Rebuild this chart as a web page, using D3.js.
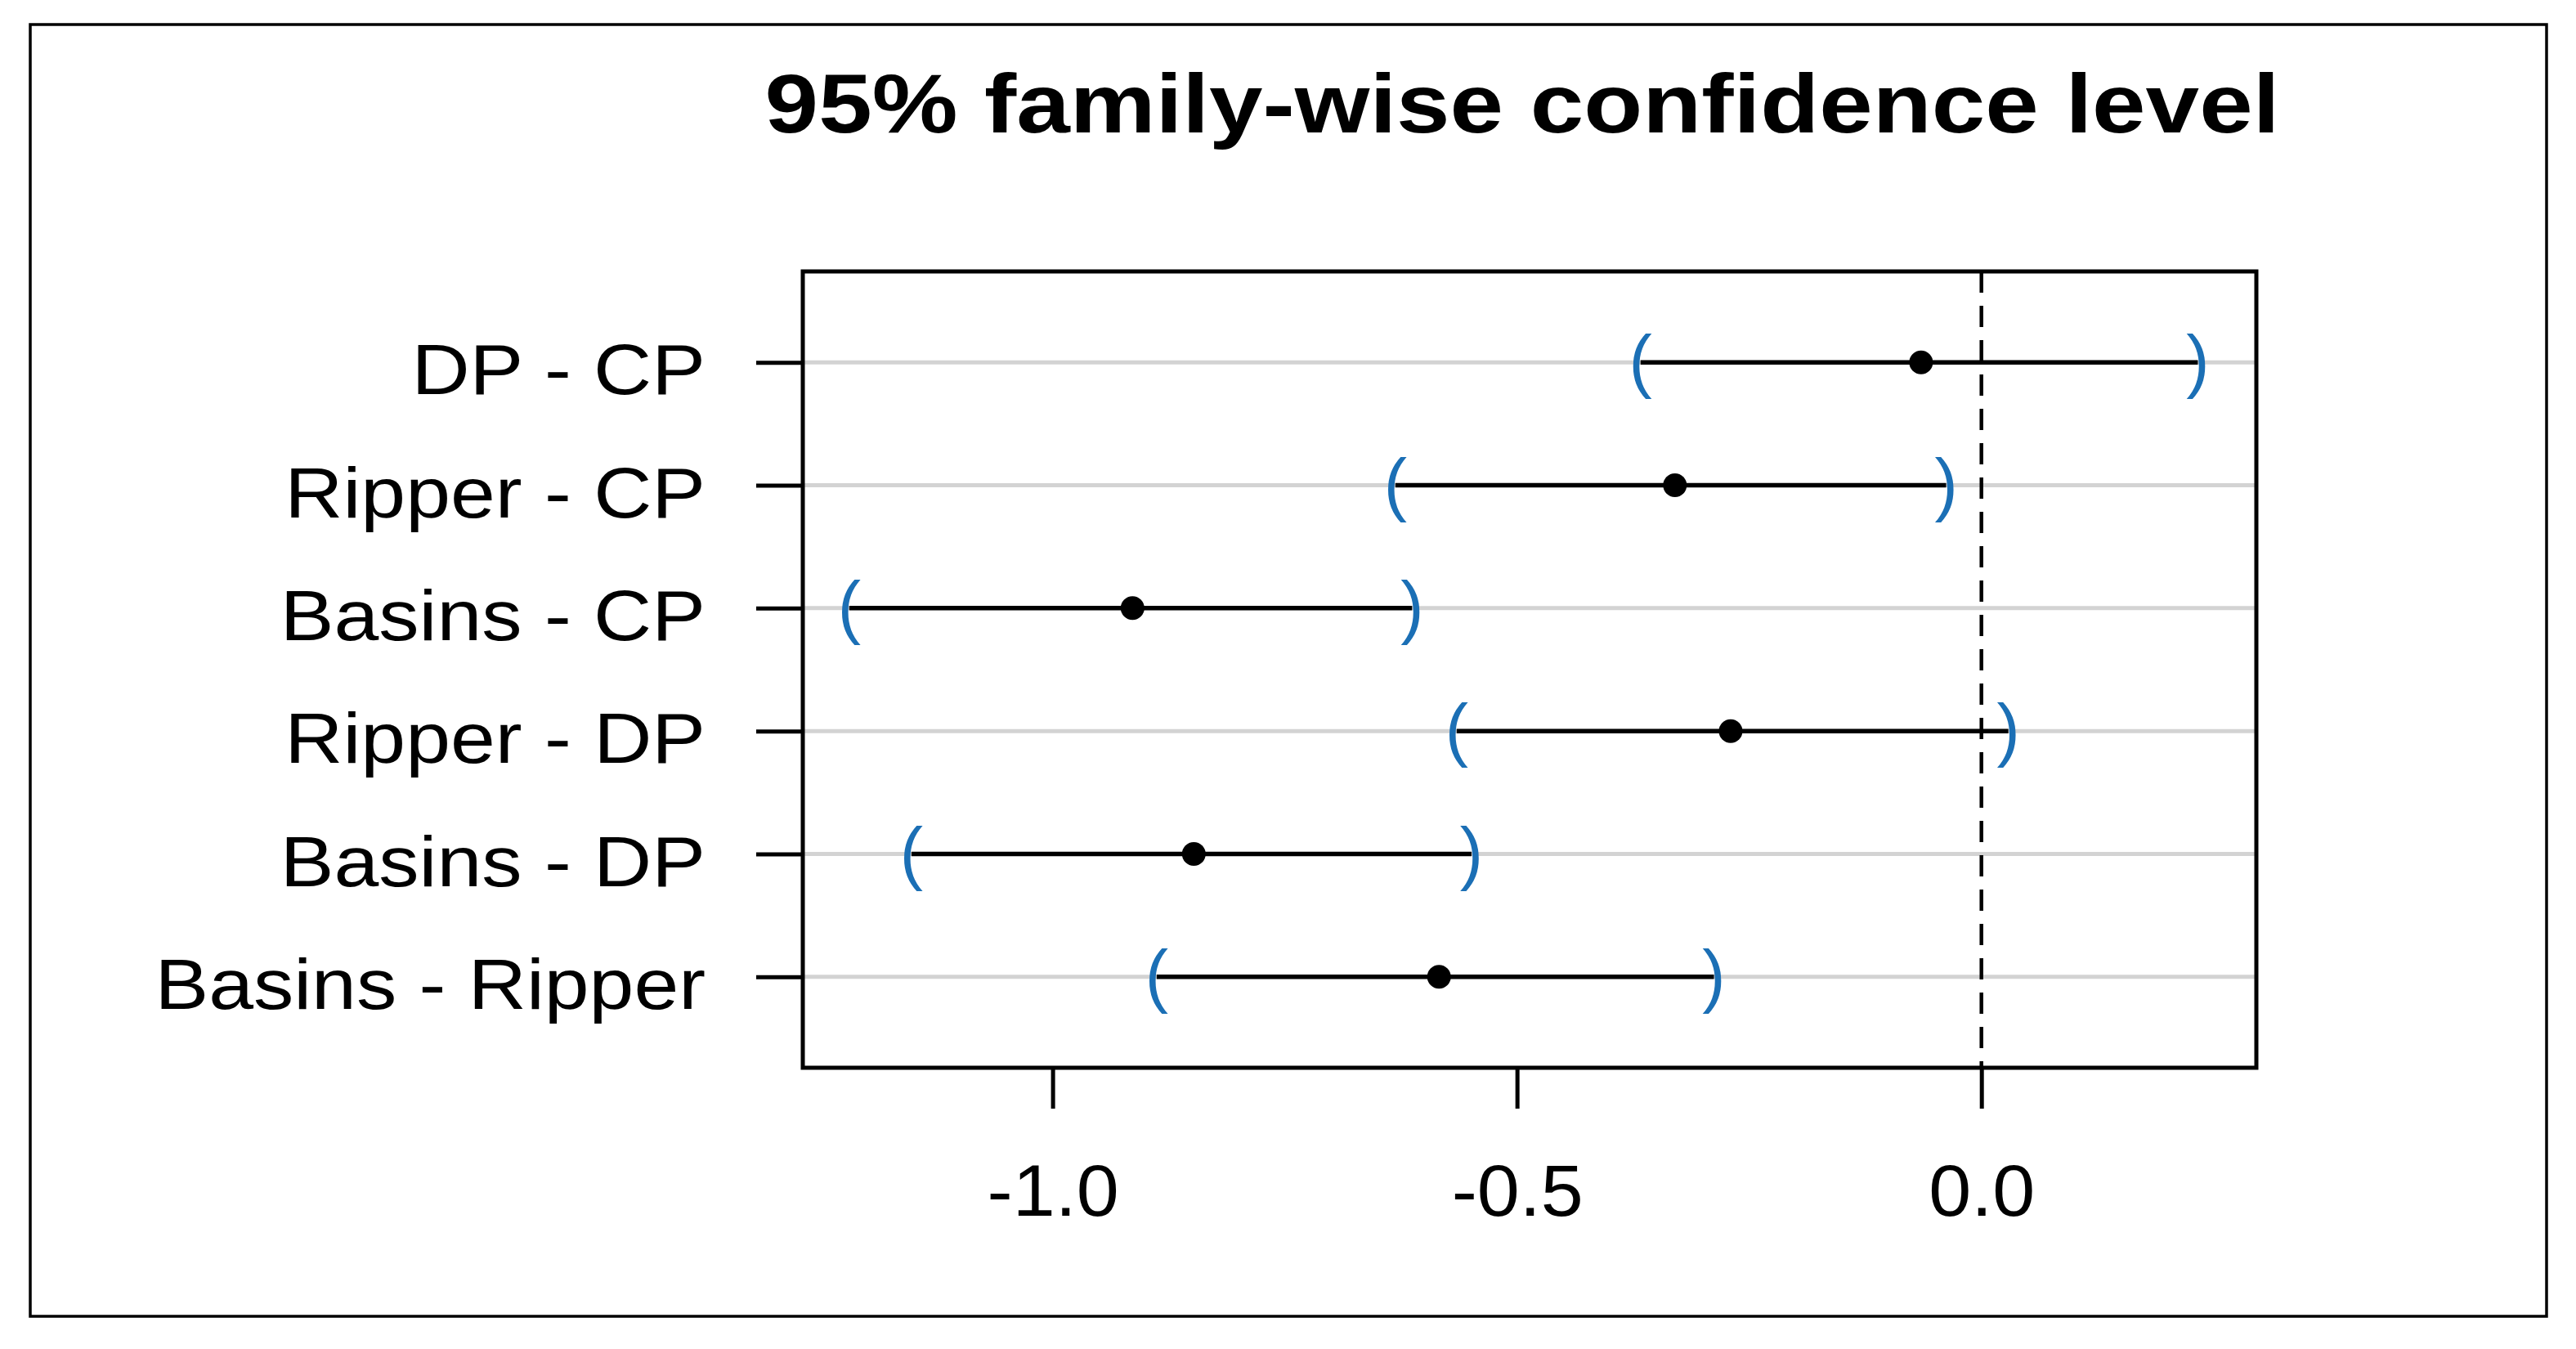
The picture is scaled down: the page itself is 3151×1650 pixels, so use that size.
<!DOCTYPE html>
<html>
<head>
<meta charset="utf-8">
<script src="https://cdn.jsdelivr.net/npm/d3@7"></script>
<style>
  body { margin: 0; background: #ffffff; }
  svg { display: block; }
</style>
</head>
<body>
<script>
var width = 3151;
var height = 1650;

// Tukey HSD comparisons, top to bottom
var comparisons = ["DP - CP", "Ripper - CP", "Basins - CP", "Ripper - DP", "Basins - DP", "Basins - Ripper"];
var diffs = [-0.065, -0.330, -0.914, -0.270, -0.848, -0.584];
var lowers = [-0.367, -0.631, -1.219, -0.565, -1.152, -0.888];
var uppers = [0.233, -0.038, -0.613, 0.029, -0.549, -0.288];
var xTicks = [-1.0, -0.5, 0.0];
var xLimits = [-1.269, 0.296];

var rows = comparisons.map(function(c, i) {
    return {name: c, diff: diffs[i], lwr: lowers[i], upr: uppers[i]};
});

var box = {left: 982, right: 2760, top: 332, bottom: 1306};
var font = "'Liberation Sans', Arial, sans-serif";

var svg = d3.select("body")
    .append("svg")
    .attr("width", width)
    .attr("height", height);

svg.append("rect")
    .attr("width", width)
    .attr("height", height)
    .attr("fill", "#ffffff");

// outer frame
svg.append("rect")
    .attr("x", 37)
    .attr("y", 30)
    .attr("width", 3078)
    .attr("height", 1580)
    .attr("fill", "none")
    .attr("stroke", "#000000")
    .attr("stroke-width", 3.5);

var x = d3.scaleLinear()
    .domain(xLimits)
    .range([box.left, box.right]);

var y = d3.scalePoint()
    .domain(comparisons)
    .range([box.top, box.bottom])
    .padding(0.74);

// light grey row lines
svg.append("g")
    .selectAll("line")
    .data(rows)
    .enter()
    .append("line")
    .attr("x1", box.left)
    .attr("x2", box.right)
    .attr("y1", function(d) { return y(d.name); })
    .attr("y2", function(d) { return y(d.name); })
    .attr("stroke", "#d3d3d3")
    .attr("stroke-width", 5);

// zero line
svg.append("line")
    .attr("x1", x(0))
    .attr("x2", x(0))
    .attr("y1", box.top)
    .attr("y2", box.bottom)
    .attr("stroke", "#000000")
    .attr("stroke-width", 4.5)
    .attr("stroke-dasharray", "26,16");

// intervals
svg.append("g")
    .selectAll("line")
    .data(rows)
    .enter()
    .append("line")
    .attr("x1", function(d) { return x(d.lwr); })
    .attr("x2", function(d) { return x(d.upr); })
    .attr("y1", function(d) { return y(d.name); })
    .attr("y2", function(d) { return y(d.name); })
    .attr("stroke", "#000000")
    .attr("stroke-width", 5.5);

var parenSize = 85;
var parens = svg.append("g")
    .attr("font-family", font)
    .attr("font-size", parenSize)
    .attr("fill", "#1b6fb5")
    .attr("text-anchor", "middle");

parens.selectAll("text.lwr")
    .data(rows)
    .enter()
    .append("text")
    .attr("class", "lwr")
    .attr("x", function(d) { return x(d.lwr); })
    .attr("y", function(d) { return y(d.name) + parenSize * 0.32; })
    .text("(");

parens.selectAll("text.upr")
    .data(rows)
    .enter()
    .append("text")
    .attr("class", "upr")
    .attr("x", function(d) { return x(d.upr); })
    .attr("y", function(d) { return y(d.name) + parenSize * 0.32; })
    .text(")");

// estimates
svg.append("g")
    .selectAll("circle")
    .data(rows)
    .enter()
    .append("circle")
    .attr("cx", function(d) { return x(d.diff); })
    .attr("cy", function(d) { return y(d.name); })
    .attr("r", 14.5)
    .attr("fill", "#000000");

// plot box
svg.append("rect")
    .attr("x", box.left)
    .attr("y", box.top)
    .attr("width", box.right - box.left)
    .attr("height", box.bottom - box.top)
    .attr("fill", "none")
    .attr("stroke", "#000000")
    .attr("stroke-width", 5);

// y axis (labels stretched a little wider, like the original raster)
var labelStretch = 1.12;
var yAxis = svg.append("g")
    .attr("transform", "translate(" + box.left + ",0)")
    .call(d3.axisLeft(y).tickSize(57).tickPadding(60));
yAxis.select(".domain").remove();
yAxis.selectAll("line").attr("stroke", "#000000").attr("stroke-width", 5);
yAxis.selectAll("text")
    .attr("font-family", font)
    .attr("font-size", 88)
    .attr("fill", "#000000")
    .attr("dy", "0.44em")
    .attr("x", -(57 + 62) / labelStretch)
    .attr("transform", "scale(" + labelStretch + ",1)");

// x axis
var tickStretch = 1.05;
var xAxis = svg.append("g")
    .attr("transform", "translate(0," + box.bottom + ")")
    .call(d3.axisBottom(x)
        .tickValues(xTicks)
        .tickFormat(function(d) { return d.toFixed(1); })
        .tickSize(50)
        .tickPadding(68));
xAxis.select(".domain").remove();
xAxis.selectAll("line").attr("stroke", "#000000").attr("stroke-width", 5);
xAxis.selectAll("text")
    .attr("font-family", font)
    .attr("font-size", 89)
    .attr("fill", "#000000")
    .attr("transform", "scale(" + tickStretch + ",1)");

// title
var titleStretch = 1.155;
svg.append("text")
    .attr("transform", "translate(1862,162) scale(" + titleStretch + ",1)")
    .attr("text-anchor", "middle")
    .attr("font-family", font)
    .attr("font-weight", "bold")
    .attr("font-size", 102)
    .attr("fill", "#000000")
    .text("95% family-wise confidence level");
</script>
</body>
</html>
